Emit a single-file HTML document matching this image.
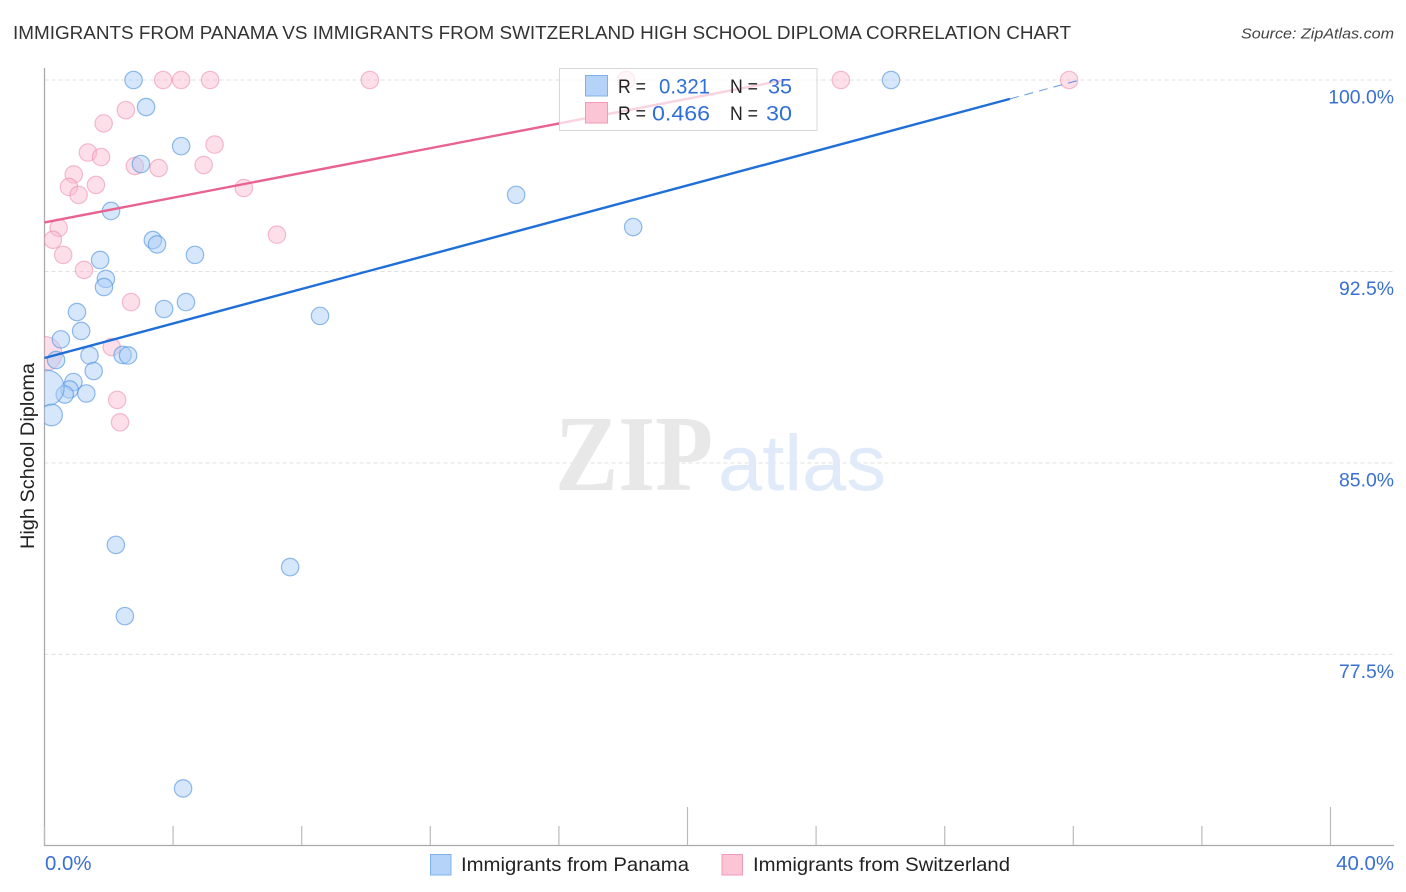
<!DOCTYPE html>
<html lang="en">
<head>
<meta charset="utf-8">
<title>Immigrants from Panama vs Immigrants from Switzerland High School Diploma Correlation Chart</title>
<style>
html,body{margin:0;padding:0;background:#fff;}
svg{display:block;font-family:"Liberation Sans",sans-serif;}
</style>
</head>
<body>
<svg id="chart" xmlns="http://www.w3.org/2000/svg" width="1406" height="892" viewBox="0 0 1406 892">
  <defs><clipPath id="plot-clip"><rect x="44.5" y="60" width="1350" height="786"/></clipPath></defs>
  <rect x="0" y="0" width="1406" height="892" fill="#fff"/>
  <text x="13" y="39" font-size="18.6" fill="#333" textLength="1058" lengthAdjust="spacingAndGlyphs">IMMIGRANTS FROM PANAMA VS IMMIGRANTS FROM SWITZERLAND HIGH SCHOOL DIPLOMA CORRELATION CHART</text>
  <text x="1241" y="38.5" font-size="15.2" font-style="italic" fill="#444" textLength="153" lengthAdjust="spacingAndGlyphs">Source: ZipAtlas.com</text>
  <g id="grid"></g>
  <g>
    <text x="555" y="490" font-family="'Liberation Serif',serif" font-weight="bold" font-size="108" fill="#e8e8e8" textLength="158" lengthAdjust="spacingAndGlyphs">ZIP</text>
    <text x="718" y="490" font-size="79" fill="#e0eaf8" textLength="168" lengthAdjust="spacingAndGlyphs">atlas</text>
  </g>
  <g id="axes"></g>
  <g id="points" clip-path="url(#plot-clip)"></g>
  <g id="lines"></g>
  <g>
    <rect x="559.5" y="68.5" width="257.5" height="62" fill="#fff" fill-opacity="0.72" stroke="#d8d8d8" stroke-width="1"/>
    <rect x="585.5" y="75.5" width="22" height="20.5" fill="#b5d3f9" stroke="#7fb0ea" stroke-width="1"/>
    <rect x="585.5" y="102.5" width="22" height="20.5" fill="#fbc5d6" stroke="#f09ab7" stroke-width="1"/>
    <g font-size="19.5" fill="#222">
      <text x="618" y="93" textLength="28" lengthAdjust="spacingAndGlyphs">R =</text>
      <text x="618" y="120" textLength="28" lengthAdjust="spacingAndGlyphs">R =</text>
      <text x="730" y="93" textLength="28" lengthAdjust="spacingAndGlyphs">N =</text>
      <text x="730" y="120" textLength="28" lengthAdjust="spacingAndGlyphs">N =</text>
    </g>
    <g font-size="21" fill="#2f6fd6">
      <text x="659" y="93.5" textLength="51" lengthAdjust="spacingAndGlyphs">0.321</text>
      <text x="652" y="120.5" textLength="58" lengthAdjust="spacingAndGlyphs">0.466</text>
      <text x="768" y="93.5" textLength="24" lengthAdjust="spacingAndGlyphs">35</text>
      <text x="766" y="120.5" textLength="26" lengthAdjust="spacingAndGlyphs">30</text>
    </g>
  </g>
  <text transform="translate(34,456) rotate(-90)" font-size="19" fill="#222" text-anchor="middle" textLength="186" lengthAdjust="spacingAndGlyphs">High School Diploma</text>
  <g>
    <rect x="430.5" y="854.5" width="20.5" height="20.5" fill="#b5d3f9" stroke="#7fb0ea" stroke-width="1"/>
    <text x="461" y="871" font-size="19.5" fill="#222" textLength="228" lengthAdjust="spacingAndGlyphs">Immigrants from Panama</text>
    <rect x="722" y="854.5" width="20.5" height="20.5" fill="#fbc5d6" stroke="#f09ab7" stroke-width="1"/>
    <text x="753" y="871" font-size="19.5" fill="#222" textLength="257" lengthAdjust="spacingAndGlyphs">Immigrants from Switzerland</text>
  </g>
</svg>
<script>
const panamaX = [2.77,3.16,4.25,3.00,2.07,14.67,18.31,3.37,3.50,4.68,1.73,1.91,1.85,4.40,3.72,1.01,8.57,1.14,0.51,0.36,1.40,2.43,2.60,1.53,0.90,0.78,0.63,1.30,0.05,0.22,2.22,7.64,2.50,4.31,26.33];
const panamaY = [100,98.94,97.41,96.71,94.87,95.50,94.24,93.73,93.56,93.15,92.95,92.21,91.89,91.30,91.03,90.91,90.76,90.17,89.84,89.03,89.21,89.23,89.21,88.60,88.17,87.88,87.68,87.72,87.94,86.88,81.79,80.92,79.00,72.25,100];
const panamaWeight = [1,1,1,1,1,1,1,1,1,1,1,1,1,1,1,1,1,1,1,1,1,1,1,1,1,1,1,1,4.3,1.55,1,1,1,1,1];
const swissX = [3.69,4.25,5.15,10.12,18.09,24.77,31.87,2.53,1.84,5.29,1.35,1.76,2.81,3.55,4.95,0.91,1.60,0.76,1.06,6.20,0.44,7.23,0.26,0.58,1.23,2.69,2.09,0,2.26,2.35];
const swissY = [100,100,100,100,100,100,100,98.82,98.30,97.47,97.16,96.98,96.63,96.55,96.67,96.30,95.89,95.81,95.50,95.77,94.21,93.94,93.74,93.15,92.56,91.30,89.54,89.27,87.47,86.59];
const swissWeight = [1,1,1,1,1,1,1,1,1,1,1,1,1,1,1,1,1,1,1,1,1,1,1,1,1,1,1,4,1,1];
const panamaTrendX = [0,30.03,32.2];
const panamaTrendY = [89.11,99.26,100];
const swissTrendX = [0,23.03];
const swissTrendY = [94.42,100];
const yTicks = [100,92.5,85,77.5];
const yTickLabels = ["100.0%","92.5%","85.0%","77.5%"];
const xTicks = [0,4,8,12,16,20,24,28,32,36,40];
const xMajorTicks = [20,40];
const xEndTicks = [0,40];
const xEndLabels = ["0.0%","40.0%"];

const NS = "http://www.w3.org/2000/svg";
function xScale(v){ return 44.5 + v * 32.15; }
function yScale(v){ return 80 + (100 - v) * 25.53; }
function rScale(w){ return 8.7 * Math.sqrt(w); }
function make(tag, parent, attrs){
  const el = document.createElementNS(NS, tag);
  for (const k in attrs) el.setAttribute(k, attrs[k]);
  parent.appendChild(el);
  return el;
}

const gridG = document.getElementById("grid");
const axesG = document.getElementById("axes");
const pointsG = document.getElementById("points");
const linesG = document.getElementById("lines");

yTicks.forEach(function(t, i){
  const g = make("line", gridG, {x1:44.5, x2:1394, y1:yScale(t), y2:yScale(t), stroke:"#e0e0e0", "stroke-width":1, "stroke-dasharray":"4 3"});
  
  
  const l = make("text", axesG, {x:1394, y:yScale(t)+23.5, "text-anchor":"end", "font-size":19.4, fill:"#3a6fd2"});
  l.textContent = yTickLabels[i];
  
  
});

const yAxis = make("line", axesG, {x1:44.5, x2:44.5, y1:68, y2:846, stroke:"#aaa", "stroke-width":1.3});


const xAxis = make("line", axesG, {x1:44, x2:1394, y1:845.5, y2:845.5, stroke:"#aaa", "stroke-width":1.3});



xTicks.forEach(function(t){
  const top = xMajorTicks.indexOf(t) >= 0 ? 807 : 826;
  const k = make("line", axesG, {x1:xScale(t), x2:xScale(t), y1:top, y2:845, stroke:"#bbb", "stroke-width":1.2});
  
  
});

xEndTicks.forEach(function(t, i){
  const first = i === 0;
  const l = make("text", axesG, {x: first ? xScale(t) + 0.5 : 1394, y:870, "text-anchor": first ? "start" : "end", "font-size":20.4, fill:"#3a6fd2"});
  l.textContent = xEndLabels[i];
  
  
});

swissX.forEach(function(v, i){
  const c = make("circle", pointsG, {cx:xScale(v), cy:yScale(swissY[i]), r:rScale(swissWeight[i]), fill:"#f8b9ce", "fill-opacity":0.45, stroke:"#ec7fa3", "stroke-opacity":0.5, "stroke-width":1.2});
  
  
});

panamaX.forEach(function(v, i){
  const c = make("circle", pointsG, {cx:xScale(v), cy:yScale(panamaY[i]), r:rScale(panamaWeight[i]), fill:"#a9ccf6", "fill-opacity":0.48, stroke:"#4a8fe0", "stroke-opacity":0.6, "stroke-width":1.2});
  
  
});

const swissLine = make("line", linesG, {x1:xScale(swissTrendX[0]), y1:yScale(swissTrendY[0]), x2:xScale(swissTrendX[1]), y2:yScale(swissTrendY[1]), stroke:"#e8638f", "stroke-width":2.4});



const panamaLine = make("line", linesG, {x1:xScale(panamaTrendX[0]), y1:yScale(panamaTrendY[0]), x2:xScale(panamaTrendX[1]), y2:yScale(panamaTrendY[1]), stroke:"#1f6fd8", "stroke-width":2.4});



const panamaDash = make("line", linesG, {x1:xScale(panamaTrendX[1]), y1:yScale(panamaTrendY[1]), x2:xScale(panamaTrendX[2]), y2:yScale(panamaTrendY[2]), stroke:"#1f6fd8", "stroke-width":1, "stroke-dasharray":"9 6", "stroke-opacity":0.7});


</script>
</body>
</html>
